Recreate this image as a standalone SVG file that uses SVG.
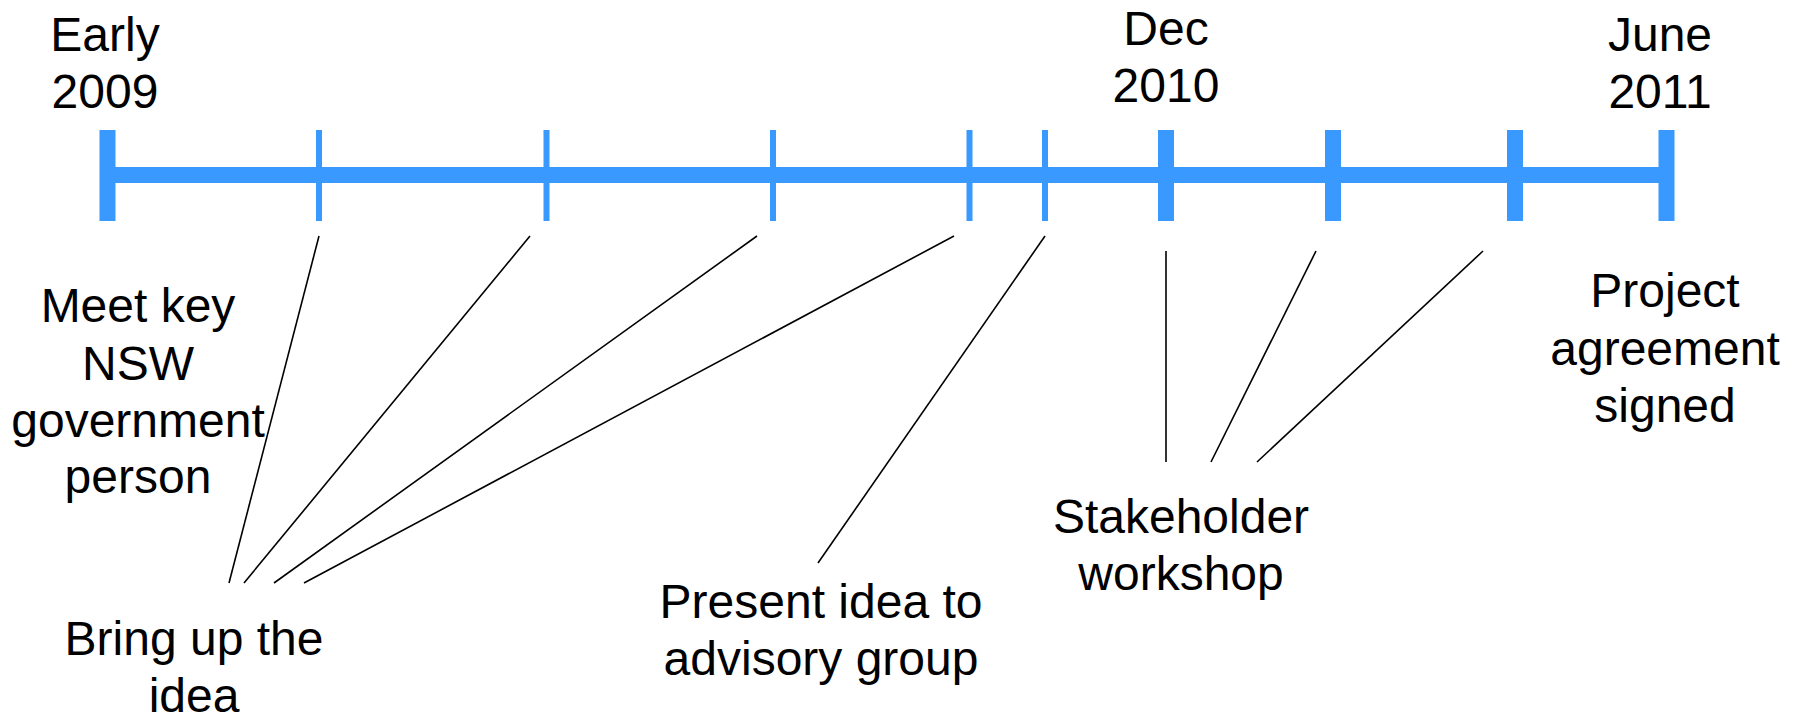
<svg xmlns="http://www.w3.org/2000/svg" width="1798" height="717" viewBox="0 0 1798 717">
  <style>
    .axis { fill: #3999FF; }
    .lbl { font-family: "Liberation Sans", Arial, sans-serif; font-size: 48px; fill: #000; text-anchor: middle; }
    .lead { stroke: #000; stroke-width: 1.6; fill: none; }
  </style>
  <rect width="1798" height="717" fill="#fff"/>

  <!-- timeline axis -->
  <g id="axis">
    <rect class="axis" x="100" y="167" width="1574" height="16"/>
    <!-- major ticks -->
    <rect class="axis" x="99.5" y="130" width="16" height="91"/>
    <rect class="axis" x="1158" y="130" width="16" height="91"/>
    <rect class="axis" x="1325" y="130" width="16" height="91"/>
    <rect class="axis" x="1507" y="130" width="16" height="91"/>
    <rect class="axis" x="1658.5" y="130" width="16" height="91"/>
    <!-- minor ticks -->
    <rect class="axis" x="316" y="130" width="6" height="91"/>
    <rect class="axis" x="543.5" y="130" width="6" height="91"/>
    <rect class="axis" x="770" y="130" width="6" height="91"/>
    <rect class="axis" x="966.5" y="130" width="6" height="91"/>
    <rect class="axis" x="1042" y="130" width="6" height="91"/>
  </g>

  <!-- date labels -->
  <g id="date-early-2009">
    <text class="lbl" x="105" y="51">Early</text>
    <text class="lbl" x="105" y="108">2009</text>
  </g>
  <g id="date-dec-2010">
    <text class="lbl" x="1166" y="45">Dec</text>
    <text class="lbl" x="1166" y="102">2010</text>
  </g>
  <g id="date-june-2011">
    <text class="lbl" x="1660" y="51">June</text>
    <text class="lbl" x="1660" y="108">2011</text>
  </g>

  <!-- event labels -->
  <g id="event-meet">
    <text class="lbl" x="138" y="322">Meet key</text>
    <text class="lbl" x="138" y="380">NSW</text>
    <text class="lbl" x="138" y="437">government</text>
    <text class="lbl" x="138" y="493">person</text>
  </g>
  <g id="event-bring-up">
    <text class="lbl" x="194" y="655">Bring up the</text>
    <text class="lbl" x="194" y="712">idea</text>
  </g>
  <g id="event-present">
    <text class="lbl" x="821" y="618">Present idea to</text>
    <text class="lbl" x="821" y="675">advisory group</text>
  </g>
  <g id="event-workshop">
    <text class="lbl" x="1181" y="533">Stakeholder</text>
    <text class="lbl" x="1181" y="590">workshop</text>
  </g>
  <g id="event-agreement">
    <text class="lbl" x="1665" y="307">Project</text>
    <text class="lbl" x="1665" y="365">agreement</text>
    <text class="lbl" x="1665" y="422">signed</text>
  </g>

  <!-- leader lines from ticks to labels -->
  <g id="connectors">
    <line class="lead" x1="319" y1="236" x2="229" y2="583"/>
    <line class="lead" x1="530" y1="236" x2="244" y2="583"/>
    <line class="lead" x1="757" y1="236" x2="274" y2="583"/>
    <line class="lead" x1="954" y1="236" x2="304" y2="583"/>
    <line class="lead" x1="1045" y1="236" x2="818" y2="563"/>
    <line class="lead" x1="1166" y1="251" x2="1166" y2="462"/>
    <line class="lead" x1="1316" y1="251" x2="1211" y2="462"/>
    <line class="lead" x1="1483" y1="251" x2="1257" y2="462"/>
  </g>
</svg>
